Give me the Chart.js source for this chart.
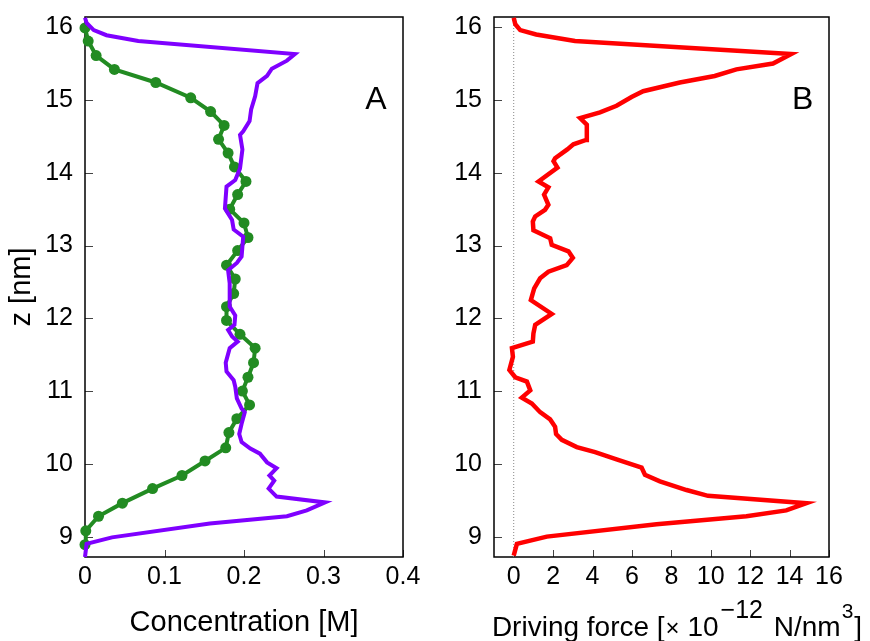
<!DOCTYPE html>
<html>
<head>
<meta charset="utf-8">
<script src="https://cdn.jsdelivr.net/npm/chart.js@4"></script>
<style>
html, body { margin: 0; padding: 0; background: #fff; }
#wrap { position: relative; width: 870px; height: 641px; }
canvas { position: absolute; top: 0; }
#chartA { left: 0; }
#chartB { left: 435px; }
</style>
</head>
<body>
<div id="wrap">
<canvas id="chartA" width="440" height="641"></canvas>
<canvas id="chartB" width="435" height="641"></canvas>
</div>
<script>
// axis ranges and ticks
var yMin = 8.72, yMax = 16.14;
var zTicks = [9, 10, 11, 12, 13, 14, 15, 16];
var concTicks = [0, 0.1, 0.2, 0.3, 0.4];
var forceTicks = [0, 2, 4, 6, 8, 10, 12, 14, 16];

// panel A, green curve with markers
var greenZ = [8.89, 9.08, 9.28, 9.46, 9.66, 9.84, 10.04, 10.22, 10.43, 10.62, 10.81, 11.00, 11.19,
    11.39, 11.59, 11.78, 11.97, 12.16, 12.34, 12.54, 12.73, 12.93, 13.11, 13.31, 13.50, 13.70,
    13.88, 14.08, 14.27, 14.46, 14.65, 14.84, 15.03, 15.24, 15.42, 15.61, 15.81, 15.99];
var greenConc = [0.000, 0.001, 0.017, 0.047, 0.085, 0.122, 0.151, 0.177, 0.181, 0.191, 0.207, 0.198, 0.205,
    0.212, 0.214, 0.195, 0.178, 0.178, 0.187, 0.189, 0.178, 0.192, 0.205, 0.200, 0.182, 0.192,
    0.2025, 0.188, 0.180, 0.168, 0.175, 0.158, 0.133, 0.089, 0.037, 0.014, 0.004, 0.000];

// panel A, purple curve
var purpleZ = [8.72, 8.90, 8.99, 9.18, 9.28, 9.36, 9.47, 9.55, 9.66, 9.77, 9.84, 9.94, 10.02, 10.14,
    10.21, 10.30, 10.41, 10.55, 10.71, 10.76, 10.90, 11.06, 11.15, 11.27, 11.39, 11.59, 11.68, 11.75,
    11.84, 11.91, 12.04, 12.16, 12.48, 12.66, 12.76, 12.85, 13.12, 13.22, 13.35, 13.51, 13.81, 13.90,
    14.06, 14.32, 14.52, 14.57, 14.71, 14.87, 15.05, 15.23, 15.33, 15.43, 15.54, 15.63, 15.81, 15.89,
    15.96, 16.06, 16.13];
var purpleConc = [0.000, 0.002, 0.034, 0.157, 0.254, 0.279, 0.302, 0.241, 0.231, 0.238, 0.232, 0.241, 0.229, 0.220,
    0.208, 0.197, 0.194, 0.197, 0.201, 0.197, 0.191, 0.189, 0.187, 0.178, 0.177, 0.182, 0.192, 0.185,
    0.180, 0.188, 0.189, 0.182, 0.182, 0.180, 0.191, 0.197, 0.199, 0.187, 0.185, 0.176, 0.178, 0.189,
    0.195, 0.198, 0.195, 0.199, 0.207, 0.209, 0.214, 0.217, 0.229, 0.235, 0.254, 0.264, 0.067, 0.027,
    0.011, 0.002, 0.000];

// panel B, driving force
var forceZ = [8.74, 8.90, 9.00, 9.17, 9.28, 9.36, 9.46, 9.56, 9.64, 9.76, 9.85, 9.95, 10.06, 10.16,
    10.23, 10.33, 10.41, 10.51, 10.61, 10.71, 10.83, 10.91, 11.01, 11.13, 11.19, 11.29, 11.47, 11.59,
    11.68, 11.79, 11.91, 12.06, 12.25, 12.41, 12.55, 12.64, 12.73, 12.83, 12.92, 13.01, 13.10, 13.21,
    13.33, 13.40, 13.49, 13.56, 13.70, 13.80, 13.88, 14.07, 14.16, 14.20, 14.32, 14.39, 14.45, 14.66,
    14.75, 14.83, 14.92, 15.04, 15.12, 15.24, 15.33, 15.42, 15.50, 15.63, 15.81, 15.90, 15.96, 16.04, 16.13];
var forceVal = [0.00, 0.16, 1.68, 7.25, 11.81, 13.83, 14.85, 9.86, 8.77, 7.42, 6.66, 6.49, 5.22, 4.13,
    3.20, 2.44, 2.15, 2.10, 1.85, 1.34, 0.92, 0.41, 0.84, 0.67, 0.08, -0.22, -0.04, -0.09,
    0.97, 1.00, 1.09, 1.93, 0.87, 1.04, 1.34, 1.76, 2.69, 3.00, 2.78, 1.93, 1.85, 1.00,
    0.97, 1.09, 1.59, 1.76, 1.54, 1.76, 1.26, 2.22, 2.02, 2.10, 2.72, 3.03, 3.67, 3.71,
    3.37, 4.38, 5.22, 5.98, 6.57, 8.43, 10.20, 11.30, 13.16, 14.08, 3.11, 1.14, 0.33, 0.08, 0.00];

var fontFamily = "'Liberation Sans', Arial, Helvetica, sans-serif";
Chart.defaults.font.family = fontFamily;
Chart.defaults.color = '#000';
Chart.defaults.animation = false;

function toPoints(xs, ys) {
    return xs.map(function (v, i) { return { x: v, y: ys[i] }; });
}

// fixed axis sizes, no extra label overflow padding
function fitX(s) {
    s.height = 84;
    s.paddingLeft = 0;
    s.paddingRight = 0;
}
function fitY(width) {
    return function (s) {
        s.width = width;
        s.paddingTop = 0;
        s.paddingBottom = 0;
    };
}

// frame, inward ticks and the panel letter
var panelPlugin = {
    id: 'panel',
    beforeDatasetsDraw: function (chart, args, opts) {
        var ctx = chart.ctx, area = chart.chartArea;
        var sx = chart.scales.x, sy = chart.scales.y;
        ctx.save();
        ctx.strokeStyle = '#444';
        ctx.lineWidth = 1;
        ctx.beginPath();
        sx.ticks.forEach(function (t) {
            var px = Math.round(sx.getPixelForValue(t.value)) + 0.5;
            ctx.moveTo(px, area.bottom);
            ctx.lineTo(px, area.bottom - 7);
        });
        sy.ticks.forEach(function (t) {
            var py = Math.round(sy.getPixelForValue(t.value)) + 0.5;
            ctx.moveTo(area.left, py);
            ctx.lineTo(area.left + 8, py);
        });
        ctx.stroke();
        ctx.strokeStyle = '#000';
        ctx.lineWidth = 1.5;
        ctx.strokeRect(area.left, area.top, area.right - area.left, area.bottom - area.top);
        ctx.fillStyle = '#000';
        ctx.font = '32px ' + fontFamily;
        ctx.textAlign = 'center';
        ctx.textBaseline = 'middle';
        ctx.fillText(opts.letter, sx.getPixelForValue(opts.x), sy.getPixelForValue(opts.y));
        ctx.restore();
    }
};

// x title of panel B, with superscripts
var forceTitlePlugin = {
    id: 'forceTitle',
    afterDraw: function (chart) {
        var ctx = chart.ctx;
        // text, font size, raise, gap before
        var parts = [
            ['Driving force [', 28, 0, 0],
            ['\u00d7', 24, 0, 1],
            [' 10', 28, 0, 0],
            ['\u221212', 25, 18, 2],
            [' N/nm', 28, 0, 3],
            ['3', 21, 18, 1],
            [']', 28, 0, 1]
        ];
        ctx.save();
        ctx.fillStyle = '#000';
        ctx.textBaseline = 'alphabetic';
        ctx.textAlign = 'left';
        var total = 0;
        parts.forEach(function (p) {
            ctx.font = p[1] + 'px ' + fontFamily;
            p.push(ctx.measureText(p[0]).width);
            total += p[3] + p[4];
        });
        var x = 242 - total / 2, base = 636;
        parts.forEach(function (p) {
            x += p[3];
            ctx.font = p[1] + 'px ' + fontFamily;
            ctx.fillText(p[0], x, base - p[2]);
            x += p[4];
        });
        ctx.restore();
    }
};

var tickFont = { size: 25 };
var noGrid = { display: false, drawTicks: false };

var chartA = new Chart(document.getElementById('chartA'), {
    type: 'line',
    data: {
        datasets: [{
            data: toPoints(purpleConc, purpleZ),
            borderColor: '#7f00ff',
            borderWidth: 4,
            pointRadius: 0,
            clip: false
        }, {
            data: toPoints(greenConc, greenZ),
            borderColor: '#228b22',
            backgroundColor: '#228b22',
            borderWidth: 4,
            pointRadius: 5.5,
            pointBorderWidth: 0,
            clip: false
        }]
    },
    options: {
        responsive: false,
        layout: { padding: { top: 17, right: 37, bottom: 0, left: 0 } },
        plugins: {
            legend: { display: false },
            tooltip: { enabled: false },
            panel: { letter: 'A', x: 0.366, y: 15.0 }
        },
        scales: {
            x: {
                type: 'linear', min: 0, max: 0.4,
                grid: noGrid, border: { display: false },
                afterBuildTicks: function (s) { s.ticks = concTicks.map(function (v) { return { value: v }; }); },
                afterFit: fitX,
                ticks: { font: tickFont, padding: 5, maxRotation: 0, autoSkip: false,
                    callback: function (v) { return String(v); } },
                title: { display: true, text: 'Concentration [M]', font: { size: 29 }, padding: { top: 0, bottom: 1 } }
            },
            y: {
                type: 'linear', min: yMin, max: yMax,
                grid: noGrid, border: { display: false },
                afterBuildTicks: function (s) { s.ticks = zTicks.map(function (v) { return { value: v }; }); },
                afterFit: fitY(85),
                ticks: { font: tickFont, padding: 12, autoSkip: false,
                    callback: function (v) { return String(v); } },
                title: { display: true, text: 'z [nm]', font: { size: 29 }, padding: { top: 5, bottom: 0 } }
            }
        }
    },
    plugins: [panelPlugin]
});

var chartB = new Chart(document.getElementById('chartB'), {
    type: 'line',
    data: {
        datasets: [{
            data: toPoints(forceVal, forceZ),
            borderColor: '#ff0000',
            borderWidth: 4.5,
            pointRadius: 0,
            clip: false
        }, {
            // zero line
            data: [{ x: 0, y: yMin }, { x: 0, y: yMax }],
            borderColor: '#888',
            borderWidth: 1,
            borderDash: [1, 2],
            pointRadius: 0
        }]
    },
    options: {
        responsive: false,
        layout: { padding: { top: 17, right: 41, bottom: 0, left: 0 } },
        plugins: {
            legend: { display: false },
            tooltip: { enabled: false },
            panel: { letter: 'B', x: 14.66, y: 15.0 }
        },
        scales: {
            x: {
                type: 'linear', min: -1, max: 16,
                grid: noGrid, border: { display: false },
                afterBuildTicks: function (s) { s.ticks = forceTicks.map(function (v) { return { value: v }; }); },
                afterFit: fitX,
                ticks: { font: tickFont, padding: 5, maxRotation: 0, autoSkip: false,
                    callback: function (v) { return String(v); } }
            },
            y: {
                type: 'linear', min: yMin, max: yMax,
                grid: noGrid, border: { display: false },
                afterBuildTicks: function (s) { s.ticks = zTicks.map(function (v) { return { value: v }; }); },
                afterFit: fitY(59),
                ticks: { font: tickFont, padding: 12, autoSkip: false,
                    callback: function (v) { return String(v); } }
            }
        }
    },
    plugins: [panelPlugin, forceTitlePlugin]
});
</script>
</body>
</html>
